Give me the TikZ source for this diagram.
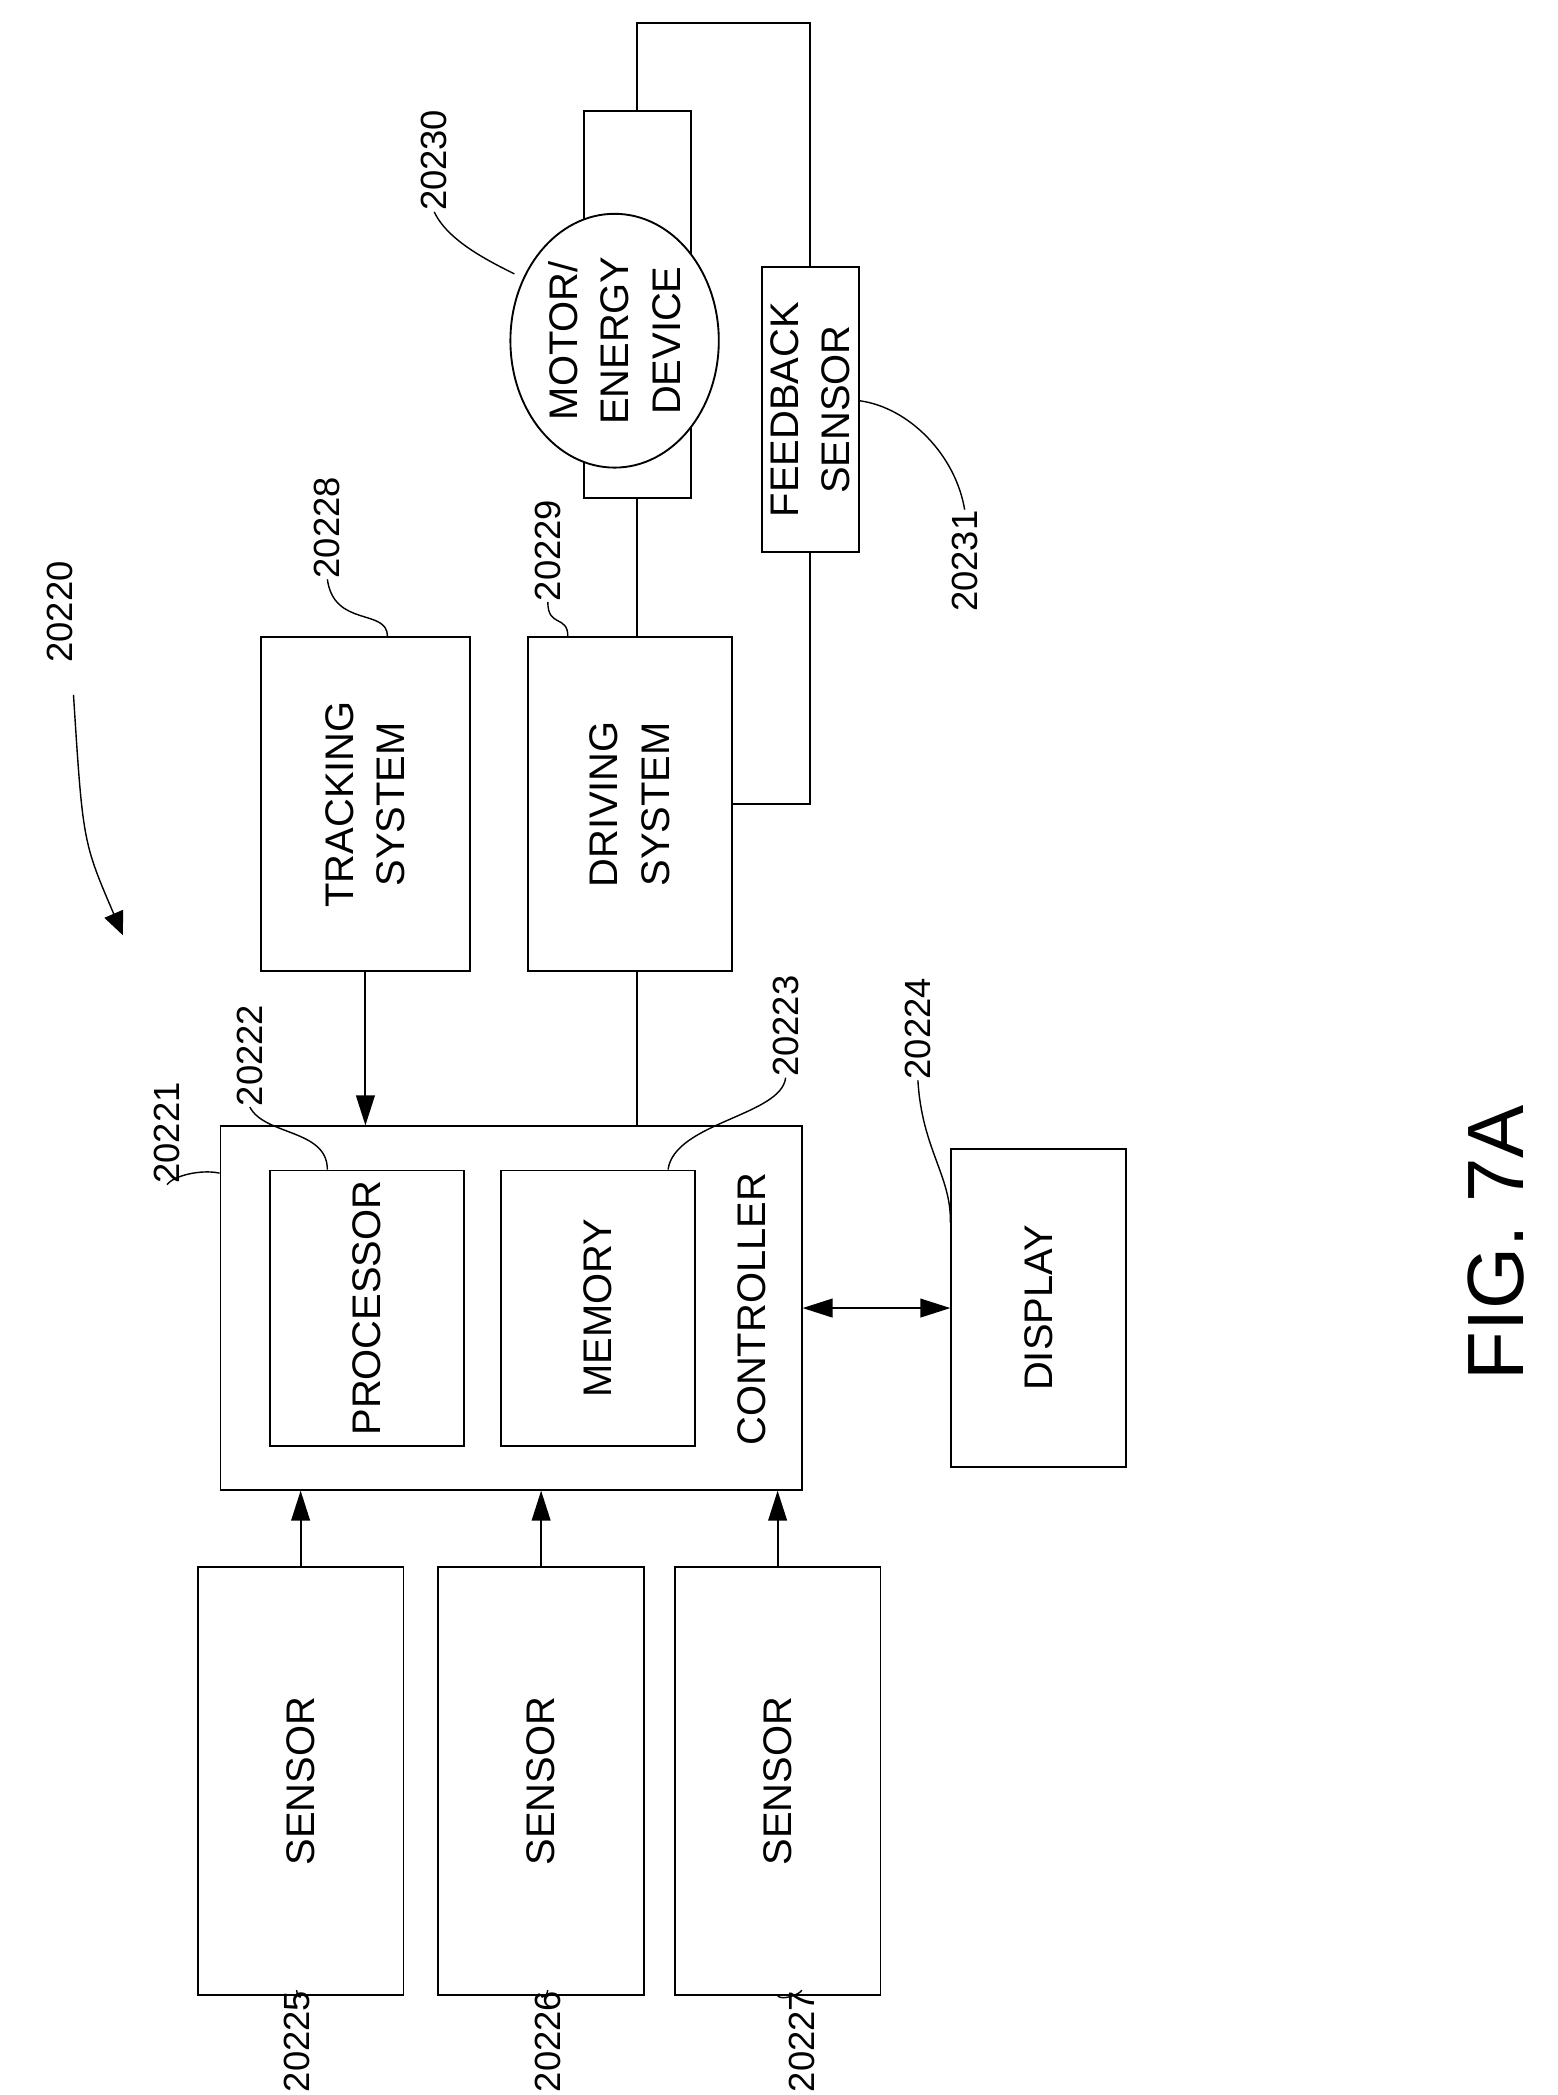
\documentclass[tikz,border=0pt]{standalone}
\usepackage{fontspec}
\setmainfont{Liberation Sans}
\usetikzlibrary{arrows.meta,shapes.geometric}
\begin{document}
\begin{tikzpicture}[x=0.02cm,y=-0.02cm,line width=0.8pt,
  box/.style={draw,rectangle,inner sep=0pt,fill=white},
  txt/.style={rotate=90,font=\fontsize{17}{22}\selectfont,align=center,inner sep=0pt},
  lbl/.style={rotate=90,font=\fontsize{15.5}{20}\selectfont,inner sep=0pt},
  lead/.style={line width=0.6pt},
  arr/.style={-{Triangle[length=0.45cm,width=0.28cm]}}]
\useasboundingbox (0,0) rectangle (1166,1568);
% boxes
\node[box,minimum width=1.6cm,minimum height=5.8cm] (mr) at (477,228) {};
\node[draw,ellipse,fill=white,minimum width=3.12cm,minimum height=3.8cm,inner sep=0pt] (mot) at (460,255) {};
\node[txt] (motT) at (mot.center) {MOTOR/\\ENERGY\\DEVICE};
\node[box,minimum width=1.46cm,minimum height=4.26cm] (fb) at (606.5,306.5) {};
\node[txt] (fbT) at (fb.center) {FEEDBACK\\SENSOR};
\node[box,minimum width=3.14cm,minimum height=5cm] (trk) at (273.5,602) {};
\node[txt] (trkT) at (trk.center) {TRACKING\\SYSTEM};
\node[box,minimum width=3.06cm,minimum height=5cm] (drv) at (471.5,602) {};
\node[txt] (drvT) at (drv.center) {DRIVING\\SYSTEM};
\node[box,minimum width=8.7cm,minimum height=5.44cm] (ctl) at (382.5,979) {};
\node[box,minimum width=2.9cm,minimum height=4.12cm] (pro) at (274.5,979) {};
\node[txt] (proT) at (pro.center) {PROCESSOR};
\node[box,minimum width=2.9cm,minimum height=4.12cm] (mem) at (447.5,979) {};
\node[txt] (memT) at (mem.center) {MEMORY};
\node[txt] (ctlT) at (563,980) {CONTROLLER};
\node[box,minimum width=2.62cm,minimum height=4.76cm] (dsp) at (777.5,979) {};
\node[txt] (dspT) at (dsp.center) {DISPLAY};
\node[box,minimum width=3.08cm,minimum height=6.4cm] (s1) at (225,1333) {};
\node[txt] (s1T) at (s1.center) {SENSOR};
\node[box,minimum width=3.08cm,minimum height=6.4cm] (s2) at (405,1333) {};
\node[txt] (s2T) at (s2.center) {SENSOR};
\node[box,minimum width=3.08cm,minimum height=6.4cm] (s3) at (582,1333) {};
\node[txt] (s3T) at (s3.center) {SENSOR};
% connectors
\coordinate (c1) at (477,17);
\coordinate (c2) at (606.5,17);
\draw (mr.north) -- (c1) -- (c2) -- (fb.north);
\draw (fb.south) |- (drv.east);
\draw (drv.north -| mr.south) -- (mr.south);
\draw (drv.south -| mr.south) -- (ctl.north -| mr.south);
\draw[arr] (trk.south) -- (trk.south |- ctl.north);
\draw[arr] (s1.north) -- (s1.north |- ctl.south);
\draw[arr] (s2.north) -- (s2.north |- ctl.south);
\draw[arr] (s3.north) -- (s3.north |- ctl.south);
\draw[{Triangle[length=0.45cm,width=0.28cm]}-{Triangle[length=0.45cm,width=0.28cm]}] (ctl.east) -- (dsp.west);
% labels
\node[lbl] (L20) at (45,458) {20220};
\coordinate (a20) at (92,700);
\draw[lead,-{Triangle[length=0.35cm,width=0.3cm]}] (55,520) .. controls (62,630) .. (a20);
\node[lbl] (L21) at (125,848) {20221};
\draw[lead] (L21.west) .. controls (130,880) and (150,875) .. (ctl.north west |- 0,878);
\node[lbl] (L22) at (187,790) {20222};
\draw[lead] (L22.west) .. controls (198,850) and (245,845) .. (pro.north -| 245,0);
\node[lbl] (L23) at (588,768) {20223};
\draw[lead] (L23.west) .. controls (585,835) and (505,840) .. (mem.north -| 500,0);
\node[lbl] (L24) at (687,770) {20224};
\draw[lead] (L24.west) .. controls (690,860) and (712,880) .. (dsp.west |- 0,915);
\node[lbl] (L28) at (245,395) {20228};
\draw[lead] (L28.west) .. controls (250,470) and (290,455) .. (trk.north -| 290,0);
\node[lbl] (L29) at (410,412) {20229};
\draw[lead] (L29.west) .. controls (410,470) and (425,460) .. (drv.north -| 425,0);
\node[lbl] (L30) at (325,120) {20230};
\draw[lead] (L30.west) .. controls (335,180) and (365,195) .. (385,205);
\node[lbl] (L31) at (722,420) {20231};
\draw[lead] (L31.east) .. controls (715,340) and (680,305) .. (fb.east |- 0,300);
\node[lbl] (L25) at (222,1528) {20225};
\draw[lead] (s1.south) .. controls (225,1496) and (222,1494) .. (L25.east);
\node[lbl] (L26) at (410,1528) {20226};
\draw[lead] (s2.south) .. controls (405,1496) and (410,1494) .. (L26.east);
\node[lbl] (L27) at (600,1528) {20227};
\draw[lead] (s3.south) .. controls (585,1498) and (600,1492) .. (L27.east);
\node[rotate=90,font=\fontsize{34}{40}\selectfont,inner sep=0pt] (fig) at (1120,930) {FIG. 7A};
\end{tikzpicture}
\end{document}
